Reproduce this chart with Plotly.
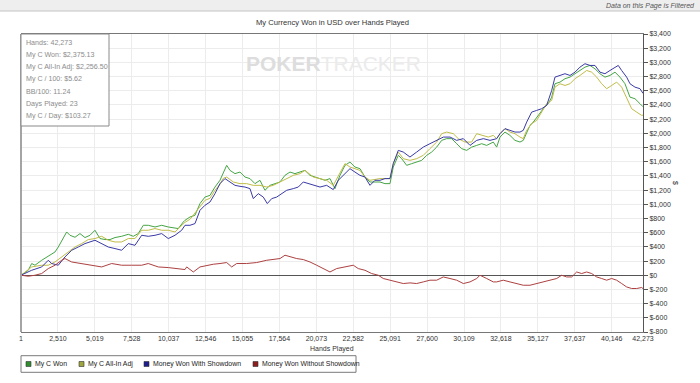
import plotly.graph_objects as go

# ---------------- data ----------------
series_names = ["My C Won", "My C All-In Adj", "Money Won With Showdown", "Money Won Without Showdown"]

won_hands = [1, 496, 727, 951, 1407, 1855, 2311, 2535, 2875, 3106,
             3330, 3670, 4010, 4349, 4689, 5029, 5369, 5709, 6048, 6388,
             6843, 7292, 7632, 7972, 8311, 8651, 9107, 9562, 10011, 10350,
             10690, 11030, 11145, 11485, 11825, 12165, 12505, 12844, 13184, 13524,
             13748, 13979, 14204, 14543, 14883, 15223, 15563, 15903, 16242, 16582,
             16922, 17262, 17602, 17941, 18281, 18621, 18961, 19301, 19640, 19980,
             20320, 20660, 21000, 21339, 21679, 22019, 22359, 22699, 23038, 23378,
             23718, 24058, 24398, 24737, 25077, 25302, 25642, 25873, 26212, 26552,
             26892, 27232, 27572, 27911, 28251, 28591, 28931, 29271, 29610, 29950,
             30290, 30630, 30970, 31309, 31649, 32098, 32329, 32553, 32893, 33232,
             33572, 33912, 34136, 34367, 34592, 34816, 35156, 35496, 35836, 36067,
             36291, 36631, 36971, 37310, 37650, 37990, 38330, 38670, 39009, 39349,
             39689, 40029, 40369, 40708, 41048, 41388, 41728, 42068, 42273]
won_usd = [0, 70, 165, 141, 211, 268, 328, 398, 517, 610,
           563, 535, 587, 531, 563, 634, 517, 503, 503, 531,
           549, 577, 549, 587, 704, 704, 680, 704, 680, 672,
           658, 750, 774, 821, 845, 1010, 1102, 1126, 1243, 1338,
           1454, 1549, 1478, 1432, 1454, 1384, 1362, 1291, 1338, 1197,
           1267, 1291, 1314, 1408, 1454, 1432, 1454, 1478, 1408, 1384,
           1362, 1338, 1362, 1221, 1408, 1549, 1595, 1525, 1502, 1384,
           1314, 1314, 1314, 1291, 1291, 1525, 1690, 1643, 1549, 1573,
           1595, 1619, 1690, 1736, 1806, 1901, 1925, 1925, 1854, 1784,
           1760, 1806, 1830, 1854, 1830, 1877, 1806, 1947, 2018, 1971,
           1901, 1877, 1901, 2018, 2112, 2158, 2253, 2347, 2418, 2510,
           2699, 2722, 2770, 2792, 2840, 2886, 2933, 2957, 2910, 2840,
           2792, 2816, 2862, 2792, 2699, 2510, 2488, 2418, 2375.13]

adj_hands = [1, 727, 1407, 1855, 2311, 2766, 3215, 3670, 4125, 4574,
             5029, 5484, 5933, 6388, 6843, 7292, 7747, 8203, 8651, 9107,
             9562, 10011, 10466, 10921, 11145, 11485, 12165, 12505, 12844, 13184,
             13524, 13748, 13979, 14430, 14883, 15338, 15787, 16242, 16698, 17146,
             17602, 18057, 18506, 18961, 19301, 19865, 20320, 20775, 21224, 21679,
             22019, 22359, 22699, 23038, 23378, 23718, 24398, 25077, 25302, 25642,
             25982, 26435, 26892, 27340, 27793, 28251, 28591, 28931, 29380, 29720,
             30174, 30630, 30970, 31309, 31758, 32098, 32329, 32553, 32893, 33232,
             33572, 33912, 34136, 34367, 34707, 35047, 35387, 35727, 36067, 36291,
             36631, 36971, 37310, 37650, 37990, 38444, 38784, 39124, 39463, 39803,
             40143, 40482, 40822, 41162, 41502, 41842, 42182, 42273]
adj_usd = [0, 117, 141, 141, 187, 258, 328, 398, 446, 503,
           517, 549, 493, 469, 469, 517, 517, 634, 634, 658,
           634, 634, 610, 704, 746, 788, 972, 1056, 1084, 1197,
           1281, 1366, 1384, 1314, 1291, 1291, 1267, 1267, 1243, 1267,
           1314, 1362, 1408, 1432, 1478, 1384, 1362, 1338, 1267, 1432,
           1573, 1525, 1502, 1478, 1384, 1338, 1362, 1362, 1573, 1736,
           1643, 1619, 1643, 1690, 1784, 1877, 1995, 2018, 1995, 1925,
           1877, 1877, 1995, 1971, 1947, 1971, 1925, 1995, 2066, 2018,
           1995, 1947, 1925, 2042, 2136, 2182, 2299, 2418, 2464, 2651,
           2699, 2675, 2699, 2770, 2816, 2886, 2862, 2792, 2699, 2629,
           2675, 2722, 2651, 2510, 2347, 2299, 2253, 2256.50]

sd_hands = [1, 727, 1407, 1855, 2086, 2535, 2990, 3446, 3894, 4349,
            5029, 5484, 5933, 6388, 6843, 7292, 7747, 8203, 8651, 9107,
            9562, 10011, 10466, 10921, 11145, 11485, 11825, 12165, 12505, 12844,
            13184, 13524, 13864, 14204, 14543, 14883, 15223, 15563, 15787, 16127,
            16467, 16739, 17038, 17378, 17717, 18057, 18506, 18846, 19185, 19525,
            19865, 20320, 20775, 21224, 21564, 21904, 22359, 22699, 23038, 23378,
            23718, 24058, 24398, 24737, 25077, 25302, 25642, 25982, 26435, 26892,
            27340, 27793, 28251, 28704, 29162, 29610, 30062, 30517, 30970, 31422,
            31875, 32329, 32553, 32893, 33232, 33572, 33912, 34136, 34367, 34707,
            35047, 35387, 35727, 36067, 36291, 36631, 36971, 37310, 37650, 37990,
            38330, 38670, 39009, 39349, 39689, 40029, 40369, 40593, 40822, 41162,
            41388, 41728, 42068, 42273]
sd_usd = [0, 70, 117, 211, 165, 141, 258, 352, 398, 446,
          493, 446, 398, 376, 352, 446, 422, 563, 549, 563,
          587, 517, 563, 634, 704, 704, 728, 915, 986, 1032,
          1150, 1291, 1362, 1314, 1267, 1253, 1243, 1221, 1080, 1150,
          1102, 1010, 1080, 1102, 1150, 1197, 1221, 1243, 1314, 1291,
          1267, 1243, 1267, 1207, 1338, 1408, 1502, 1454, 1408, 1384,
          1267, 1338, 1338, 1362, 1362, 1573, 1760, 1736, 1666, 1736,
          1806, 1854, 1901, 1947, 1947, 1901, 1925, 1830, 1901, 1925,
          1901, 1925, 1995, 2066, 2042, 2018, 2018, 2042, 2158, 2299,
          2323, 2347, 2394, 2605, 2792, 2816, 2840, 2816, 2862, 2933,
          2981, 2957, 2957, 2862, 2840, 2886, 2933, 2957, 2886, 2792,
          2699, 2651, 2629, 2563]

nosd_hands = [1, 496, 951, 1407, 1855, 2311, 2766, 2990, 3446, 4125,
              4805, 5484, 6164, 6843, 7523, 8203, 8651, 9331, 10011, 10690,
              11145, 11261, 11710, 12165, 12620, 13069, 13524, 13979, 14319, 14659,
              15338, 16018, 16698, 17146, 17602, 17941, 18281, 18736, 19185, 19640,
              20096, 20545, 21000, 21455, 21904, 22583, 22923, 23378, 23833, 24282,
              24622, 25077, 25532, 25981, 26436, 26892, 27340, 27796, 28251, 28700,
              29155, 29610, 30062, 30517, 30970, 31194, 31649, 32098, 32329, 32777,
              33232, 33687, 34136, 34592, 35047, 35496, 35952, 36407, 36746, 37086,
              37426, 37766, 38105, 38444, 38784, 39124, 39463, 39803, 40143, 40482,
              40822, 41162, 41502, 41842, 42182, 42273]
nosd_usd = [0, -14, 0, 24, 94, 141, 211, 235, 187, 165,
            141, 117, 165, 141, 141, 141, 165, 117, 108, 94,
            80, 117, 46, 117, 141, 155, 165, 179, 117, 165,
            165, 179, 211, 221, 235, 282, 258, 235, 221, 187,
            141, 94, 46, 94, 117, 141, 94, 70, 24, 0,
            -46, -70, -94, -117, -108, -117, -94, -70, -70, -24,
            -46, -70, -117, -94, -46, 0, -46, -94, -94, -70,
            -94, -117, -141, -141, -117, -94, -70, -46, 0, -24,
            -24, 46, 24, 46, 24, -24, -46, -70, -46, -70,
            -117, -165, -187, -187, -173, -188]

x_tick_vals = [1, 2510, 5019, 7528, 10037, 12546, 15055, 17564, 20073, 22582,
               25091, 27600, 30109, 32618, 35127, 37637, 40146, 42273]
x_tick_text = ["1", "2,510", "5,019", "7,528", "10,037", "12,546", "15,055", "17,564", "20,073",
               "22,582", "25,091", "27,600", "30,109", "32,618", "35,127", "37,637", "40,146", "42,273"]
y_tick_vals = list(range(-800, 3401, 200))
y_tick_text = [("$-" if v < 0 else "$") + f"{abs(v):,}" for v in y_tick_vals]

stats_lines = ["Hands: 42,273", "My C Won: $2,375.13", "My C All-In Adj: $2,256.50",
               "My C / 100: $5.62", "BB/100: 11.24", "Days Played: 23", "My C / Day: $103.27"]

# ---------------- styling / layout ----------------
W, H = 700, 383
L, R, T, B = 21, 57, 34, 51
PW, PH = W - L - R, H - T - B
FONT = "Liberation Sans, Arial, sans-serif"


def px(x):
    return (x - L) / PW


def py(y):
    return (H - B - y) / PH


line_colors = ["#45a545", "#c0bc48", "#3a3aa6", "#ad4040"]
swatch_colors = ["#2f8f2f", "#9ea63e", "#1e1e8e", "#8e1e1e"]
all_x = [won_hands, adj_hands, sd_hands, nosd_hands]
all_y = [won_usd, adj_usd, sd_usd, nosd_usd]

fig = go.Figure()
for name, xs, ys, c in zip(series_names, all_x, all_y, line_colors):
    fig.add_trace(go.Scatter(x=xs, y=ys, name=name, mode="lines",
                             line=dict(color=c, width=1), showlegend=False))

shapes = []
annotations = []

# top filter band
shapes.append(dict(type="rect", xref="paper", yref="paper", x0=px(0), x1=px(W), y0=py(11), y1=py(0),
                   fillcolor="#eeeeee", line=dict(width=0), layer="below"))
shapes.append(dict(type="line", xref="paper", yref="paper", x0=px(0), x1=px(W), y0=py(11), y1=py(11),
                   line=dict(color="#c4c4c4", width=1)))
annotations.append(dict(text="<i>Data on this Page is Filtered</i>", xref="paper", yref="paper",
                        x=px(697), y=py(5.5), xanchor="right", yanchor="middle", showarrow=False,
                        font=dict(size=7, color="#555555", family=FONT)))

# title
annotations.append(dict(text="My Currency Won in USD over Hands Played", xref="paper", yref="paper",
                        x=px(332), y=py(22), xanchor="center", yanchor="middle", showarrow=False,
                        font=dict(size=7.6, color="#333333", family=FONT)))

# watermark
annotations.append(dict(text="<b>POKER</b><span style='color:#ebebeb'>TRACKER</span>", xref="paper", yref="paper",
                        x=px(333), y=py(63), xanchor="center", yanchor="middle", showarrow=False,
                        font=dict(size=21, color="#dddddd", family=FONT)))

# left thick frame line
shapes.append(dict(type="line", xref="paper", yref="paper", x0=0, x1=0, y0=0, y1=1,
                   line=dict(color="#a4a4a4", width=2)))

# stats box
shapes.append(dict(type="rect", xref="paper", yref="paper", x0=0, x1=px(109), y0=py(126), y1=1,
                   fillcolor="white", line=dict(color="#8a8a8a", width=1)))
stat_y = [42.7, 54.9, 67.1, 79.3, 91.6, 103.8, 116.0]
for txt, yy in zip(stats_lines, stat_y):
    annotations.append(dict(text=txt, xref="paper", yref="paper", x=px(24), y=py(yy),
                            xanchor="left", yanchor="middle", showarrow=False,
                            font=dict(size=7.1, color="#8c8c8c", family=FONT)))

# axis titles
annotations.append(dict(text="Hands Played", xref="paper", yref="paper", x=px(332), y=py(348.5),
                        xanchor="center", yanchor="middle", showarrow=False,
                        font=dict(size=7, color="#333333", family=FONT)))
annotations.append(dict(text="$", xref="paper", yref="paper", x=px(676), y=py(183),
                        xanchor="center", yanchor="middle", showarrow=False, textangle=90,
                        font=dict(size=7, color="#333333", family=FONT)))

# manual legend
shapes.append(dict(type="rect", xref="paper", yref="paper", x0=px(21), x1=px(356), y0=py(372.3), y1=py(355.7),
                   fillcolor="white", line=dict(color="#7a7a7a", width=1)))
sw_x = [26, 79, 144, 253]
tx_x = [32.5, 86, 151, 259.5]
for name, sc, sx, tx in zip(series_names, swatch_colors, sw_x, tx_x):
    shapes.append(dict(type="rect", xref="paper", yref="paper", x0=px(sx), x1=px(sx + 5),
                       y0=py(366.5), y1=py(361.5), fillcolor=sc, line=dict(color="#333333", width=0.6)))
    annotations.append(dict(text=name, xref="paper", yref="paper", x=px(tx), y=py(364),
                            xanchor="left", yanchor="middle", showarrow=False,
                            font=dict(size=6.9, color="#222222", family=FONT)))

fig.update_layout(
    width=W, height=H,
    margin=dict(l=L, r=R, t=T, b=B, pad=0),
    paper_bgcolor="white", plot_bgcolor="white",
    font=dict(family=FONT, size=7, color="#333333"),
    showlegend=False,
    xaxis=dict(range=[1, 42273], tickvals=x_tick_vals, ticktext=x_tick_text,
               showgrid=True, gridcolor="#ececec", gridwidth=1, zeroline=False,
               showline=True, linecolor="#777777", linewidth=1, mirror=True,
               ticks="", tickfont=dict(size=7, color="#333333"), automargin=False),
    yaxis=dict(range=[-800, 3400], side="right", tickvals=y_tick_vals, ticktext=y_tick_text,
               showgrid=True, gridcolor="#ececec", gridwidth=1,
               zeroline=True, zerolinecolor="#555555", zerolinewidth=1,
               showline=True, linecolor="#555555", linewidth=1,
               ticks="outside", ticklen=4, tickcolor="#555555",
               tickfont=dict(size=7, color="#333333"), automargin=False),
    shapes=shapes,
    annotations=annotations,
)

fig.write_html("out.html", config={"displayModeBar": False},
               post_script="document.body.style.margin='0px';document.body.style.overflow='hidden';")
